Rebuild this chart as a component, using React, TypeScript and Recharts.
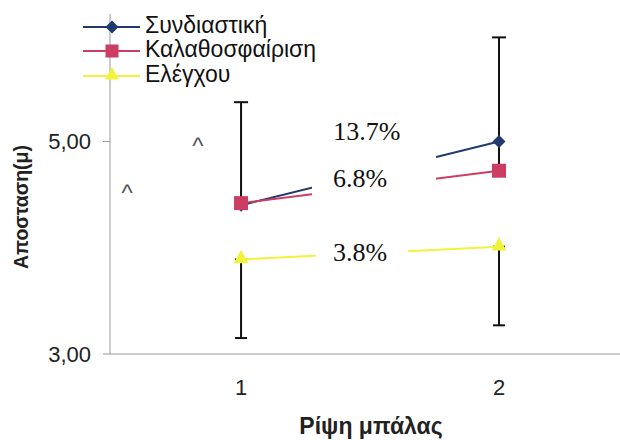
import { LineChart, Line, XAxis, YAxis, ErrorBar, ReferenceArea, ReferenceDot, Legend } from "recharts";

const throws = [1, 2];
const combined = [4.4, 5.0];
const basketball = [4.42, 4.725];
const control = [3.89, 4.01];
const basketballSdUp = [0.95, 1.255];
const controlSdDown = [0.74, 0.74];

const seriesKeys = ["combined", "basketball", "control"];
const seriesNames = ["Συνδιαστική", "Καλαθοσφαίριση", "Ελέγχου"];
const seriesColors = ["#1f3a6b", "#cc3d63", "#f2f23c"];
const seriesMarkers = ["diamond", "square", "triangle"];

const xTicks = [1, 2];
const yTicks = [3, 5];

const changeLabels = ["13.7%", "6.8%", "3.8%"];
const changeLabelX = [1.488, 1.461, 1.461];
const changeLabelY = [5.09, 4.65, 3.96];

// white text boxes of the original cover the middle of the lines
const boxes = [
  { x1: 1.275, x2: 1.756, y1: 4.45, y2: 5.3 },
  { x1: 1.29, x2: 1.647, y1: 3.75, y2: 4.2 },
];

// stray "^" marks left on the scan
const caretX = [0.558, 0.833];
const caretY = [4.54, 4.986];

const data = throws.map((t, i) => ({
  throw: t,
  combined: combined[i],
  basketball: basketball[i],
  control: control[i],
  basketballErr: [0, basketballSdUp[i]],
  controlErr: [controlSdDown[i], 0],
}));

const SANS = "'Liberation Sans', Arial, sans-serif";
const SERIF = "'Liberation Serif', 'Times New Roman', serif";

const Marker = ({ kind, cx, cy, color, s }: any) => {
  if (kind === "diamond")
    return <path d={`M${cx},${cy - s} L${cx + s},${cy} L${cx},${cy + s} L${cx - s},${cy} Z`} fill={color} />;
  if (kind === "square") return <rect x={cx - s} y={cy - s} width={2 * s} height={2 * s} fill={color} />;
  return (
    <path
      d={`M${cx},${cy - s * 1.4} L${cx + s * 1.05},${cy + s * 0.55} L${cx - s * 1.05},${cy + s * 0.55} Z`}
      fill={color}
    />
  );
};

const markerSize = [6.5, 7, 7];

const LegendBox = () => (
  <div style={{ fontFamily: SANS, fontSize: 23, color: "#111" }}>
    {seriesNames.map((name, i) => (
      <div key={name} style={{ display: "flex", alignItems: "center", height: 24.5 }}>
        <svg width={57} height={24} style={{ display: "block" }}>
          <line x1={0} y1={14} x2={57} y2={14} stroke={seriesColors[i]} strokeWidth={2} />
          <Marker kind={seriesMarkers[i]} cx={29} cy={14} color={seriesColors[i]} s={6.5} />
        </svg>
        <span style={{ marginLeft: 5, lineHeight: "24.5px" }}>{name}</span>
      </div>
    ))}
  </div>
);

const YTitle = ({ viewBox }: any) => {
  const x = viewBox.x + 28;
  const y = viewBox.y + viewBox.height / 2 + 23;
  return (
    <text x={x} y={y} transform={`rotate(-90 ${x} ${y})`} textAnchor="middle" fontFamily={SANS} fontSize={19.5} fontWeight="bold" fill="#222">
      Αποσταση(μ)
    </text>
  );
};

const XTitle = ({ viewBox }: any) => {
  const x = viewBox.x + viewBox.width / 2 + 6;
  const y = viewBox.y + 80;
  return (
    <text x={x} y={y} textAnchor="middle" fontFamily={SANS} fontSize={23} fontWeight="bold" fill="#222">
      Ρίψη μπάλας
    </text>
  );
};

export default function App() {
  return (
    <div style={{ position: "absolute", left: 0, top: 0, width: 620, height: 440, background: "#fff" }}>
      <LineChart width={620} height={440} data={data} margin={{ top: 14, right: 0, bottom: 0, left: 0 }}>
        <XAxis
          type="number"
          dataKey="throw"
          domain={[0.492, 2.469]}
          ticks={xTicks}
          allowDataOverflow
          height={86}
          stroke="#999"
          tickSize={0}
          tickMargin={25}
          tick={{ fill: "#222", fontSize: 22, fontFamily: SANS }}
          label={{ content: XTitle }}
        />
        <YAxis
          type="number"
          domain={[3, 6.2]}
          ticks={yTicks}
          allowDataOverflow
          width={110}
          stroke="#999"
          tickSize={7}
          tickMargin={12}
          tick={{ fill: "#222", fontSize: 22, fontFamily: SANS }}
          tickFormatter={(v: number) => v.toFixed(2).replace(".", ",")}
          label={{ content: YTitle }}
        />
        <Legend
          layout="vertical"
          align="center"
          verticalAlign="middle"
          wrapperStyle={{ left: 83, top: 12.5, width: "auto" }}
          content={LegendBox}
        />
        {seriesKeys.map((key, i) => (
          <Line
            key={key}
            dataKey={key}
            type="linear"
            stroke={seriesColors[i]}
            strokeWidth={2}
            isAnimationActive={false}
            activeDot={false}
            dot={(p: any) => (
              <Marker key={`${key}-${p.index}`} kind={seriesMarkers[i]} cx={p.cx} cy={p.cy} color={seriesColors[i]} s={markerSize[i]} />
            )}
          >
            {key === "basketball" && (
              <ErrorBar dataKey="basketballErr" direction="y" width={7} stroke="#111" strokeWidth={2} />
            )}
            {key === "control" && (
              <ErrorBar dataKey="controlErr" direction="y" width={6} stroke="#111" strokeWidth={2} />
            )}
          </Line>
        ))}
        {boxes.map((b, i) => (
          <ReferenceArea key={`box-${i}`} x1={b.x1} x2={b.x2} y1={b.y1} y2={b.y2} fill="#fff" fillOpacity={1} stroke="none" zIndex={1500} />
        ))}
        {changeLabels.map((lab, i) => (
          <ReferenceDot
            key={lab}
            x={changeLabelX[i]}
            y={changeLabelY[i]}
            zIndex={1600}
            shape={(p: any) => (
              <text x={p.cx} y={p.cy} textAnchor="middle" dominantBaseline="central" fontFamily={SERIF} fontSize={26} fill="#111">
                {lab}
              </text>
            )}
          />
        ))}
        {caretX.map((cx, i) => (
          <ReferenceDot
            key={`caret-${i}`}
            x={cx}
            y={caretY[i]}
            zIndex={1600}
            shape={(p: any) => (
              <text x={p.cx} y={p.cy + 11} textAnchor="middle" fontFamily={SANS} fontSize={24} fill="#555">
                ^
              </text>
            )}
          />
        ))}
      </LineChart>
    </div>
  );
}
